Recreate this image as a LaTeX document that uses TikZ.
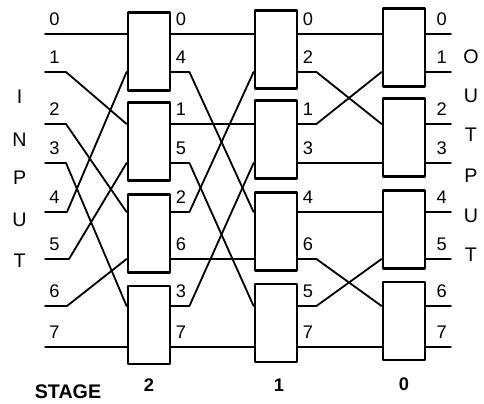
\documentclass[tikz,border=0pt]{standalone}
\usepackage{fontspec}
\setmainfont{Liberation Sans}
\tikzset{switch/.style={draw=black,line width=2pt,minimum width=1.05cm,minimum height=1.95cm,inner sep=0pt},
 wire/.style={draw=black,line width=1.3pt},
 tag/.style={anchor=south west,inner sep=0pt,font=\fontsize{13}{15}\selectfont,xshift=3pt,yshift=6pt},
 letter/.style={inner sep=0pt,font=\fontsize{14}{16}\selectfont},
 every picture/.style={line join=round,line cap=round}}
\begin{document}
\begin{tikzpicture}[]
\useasboundingbox (0,0) rectangle (12.1,10.075);
% line levels
\coordinate (in0) at (1.125,9.225);
\coordinate (in1) at (1.125,8.275);
\coordinate (in2) at (1.125,6.975);
\coordinate (in3) at (1.125,6.000);
\coordinate (in4) at (1.125,4.775);
\coordinate (in5) at (1.125,3.600);
\coordinate (in6) at (1.125,2.425);
\coordinate (in7) at (1.125,1.400);
\coordinate (out0) at (11.275,9.225);
\coordinate (out1) at (11.275,8.275);
\coordinate (out2) at (11.275,6.975);
\coordinate (out3) at (11.275,6.000);
\coordinate (out4) at (11.275,4.775);
\coordinate (out5) at (11.275,3.600);
\coordinate (out6) at (11.275,2.425);
\coordinate (out7) at (11.275,1.400);
% switches
\node[switch] (sw2a) at (3.725,8.790) {};
\node[switch] (sw2b) at (3.725,6.530) {};
\node[switch] (sw2c) at (3.725,4.230) {};
\node[switch] (sw2d) at (3.725,1.950) {};
\node[switch] (sw1a) at (6.900,8.840) {};
\node[switch] (sw1b) at (6.900,6.580) {};
\node[switch] (sw1c) at (6.900,4.280) {};
\node[switch] (sw1d) at (6.900,2.000) {};
\node[switch] (sw0a) at (10.100,8.890) {};
\node[switch] (sw0b) at (10.100,6.630) {};
\node[switch] (sw0c) at (10.100,4.330) {};
\node[switch] (sw0d) at (10.100,2.050) {};
% inputs to stage 2
\draw[wire] (in0) -- (sw2a.west |- in0);
\draw[wire] (in1) -- ++(0.525,0) -- (sw2b.west |- in2);
\draw[wire] (in2) -- ++(0.525,0) -- (sw2c.west |- in4);
\draw[wire] (in3) -- ++(0.525,0) -- (sw2d.west |- in6);
\draw[wire] (in4) -- ++(0.550,0) -- (sw2a.west |- in1);
\draw[wire] (in5) -- ++(0.600,0) -- (sw2b.west |- in3);
\draw[wire] (in6) -- ++(0.550,0) -- (sw2c.west |- in5);
\draw[wire] (in7) -- (sw2d.west |- in7);
% stage 2 to stage 1
\draw[wire] (sw2a.east |- in0) -- (sw1a.west |- in0);
\draw[wire] (sw2a.east |- in1) -- ++(0.450,0) -- (sw1c.west |- in4);
\draw[wire] (sw2b.east |- in2) -- (sw1b.west |- in2);
\draw[wire] (sw2b.east |- in3) -- ++(0.450,0) -- (sw1d.west |- in6);
\draw[wire] (sw2c.east |- in4) -- ++(0.450,0) -- (sw1a.west |- in1);
\draw[wire] (sw2c.east |- in5) -- (sw1c.west |- in5);
\draw[wire] (sw2d.east |- in6) -- ++(0.450,0) -- (sw1b.west |- in3);
\draw[wire] (sw2d.east |- in7) -- (sw1d.west |- in7);
% stage 1 to stage 0
\draw[wire] (sw1a.east |- in0) -- (sw0a.west |- in0);
\draw[wire] (sw1a.east |- in1) -- ++(0.450,0) -- (sw0b.west |- in2);
\draw[wire] (sw1b.east |- in2) -- ++(0.450,0) -- (sw0a.west |- in1);
\draw[wire] (sw1b.east |- in3) -- (sw0b.west |- in3);
\draw[wire] (sw1c.east |- in4) -- (sw0c.west |- in4);
\draw[wire] (sw1c.east |- in5) -- ++(0.450,0) -- (sw0d.west |- in6);
\draw[wire] (sw1d.east |- in6) -- ++(0.450,0) -- (sw0c.west |- in5);
\draw[wire] (sw1d.east |- in7) -- (sw0d.west |- in7);
% outputs
\draw[wire] (sw0a.east |- in0) -- (out0);
\draw[wire] (sw0a.east |- in1) -- (out1);
\draw[wire] (sw0b.east |- in2) -- (out2);
\draw[wire] (sw0b.east |- in3) -- (out3);
\draw[wire] (sw0c.east |- in4) -- (out4);
\draw[wire] (sw0c.east |- in5) -- (out5);
\draw[wire] (sw0d.east |- in6) -- (out6);
\draw[wire] (sw0d.east |- in7) -- (out7);
% line numbers
\node[tag] (tin0) at (in0) {0};
\node[tag] (tin1) at (in1) {1};
\node[tag] (tin2) at (in2) {2};
\node[tag] (tin3) at (in3) {3};
\node[tag] (tin4) at (in4) {4};
\node[tag] (tin5) at (in5) {5};
\node[tag] (tin6) at (in6) {6};
\node[tag] (tin7) at (in7) {7};
\node[tag] (t20) at (sw2a.east |- in0) {0};
\node[tag] (t21) at (sw2a.east |- in1) {4};
\node[tag] (t22) at (sw2b.east |- in2) {1};
\node[tag] (t23) at (sw2b.east |- in3) {5};
\node[tag] (t24) at (sw2c.east |- in4) {2};
\node[tag] (t25) at (sw2c.east |- in5) {6};
\node[tag] (t26) at (sw2d.east |- in6) {3};
\node[tag] (t27) at (sw2d.east |- in7) {7};
\node[tag] (t10) at (sw1a.east |- in0) {0};
\node[tag] (t11) at (sw1a.east |- in1) {2};
\node[tag] (t12) at (sw1b.east |- in2) {1};
\node[tag] (t13) at (sw1b.east |- in3) {3};
\node[tag] (t14) at (sw1c.east |- in4) {4};
\node[tag] (t15) at (sw1c.east |- in5) {6};
\node[tag] (t16) at (sw1d.east |- in6) {5};
\node[tag] (t17) at (sw1d.east |- in7) {7};
\node[tag,xshift=4pt] (t00) at (sw0a.east |- in0) {0};
\node[tag,xshift=4pt] (t01) at (sw0a.east |- in1) {1};
\node[tag,xshift=4pt] (t02) at (sw0b.east |- in2) {2};
\node[tag,xshift=4pt] (t03) at (sw0b.east |- in3) {3};
\node[tag,xshift=4pt] (t04) at (sw0c.east |- in4) {4};
\node[tag,xshift=4pt] (t05) at (sw0c.east |- in5) {5};
\node[tag,xshift=4pt] (t06) at (sw0d.east |- in6) {6};
\node[tag,xshift=4pt] (t07) at (sw0d.east |- in7) {7};
% INPUT / OUTPUT
\node[letter] (inI) at (0.490,7.650) {I};
\node[letter] (inN) at (0.490,6.575) {N};
\node[letter] (inP) at (0.490,5.625) {P};
\node[letter] (inU) at (0.490,4.575) {U};
\node[letter] (inT) at (0.490,3.550) {T};
\node[letter] (outO) at (11.775,8.650) {O};
\node[letter] (outU) at (11.775,7.675) {U};
\node[letter] (outT) at (11.775,6.700) {T};
\node[letter] (outP) at (11.775,5.675) {P};
\node[letter] (outU2) at (11.775,4.675) {U};
\node[letter] (outT2) at (11.775,3.700) {T};
% stages
\node[letter,font=\fontsize{14}{16}\selectfont\bfseries] (stage) at (1.700,0.275) {STAGE};
\node[letter,font=\fontsize{13}{15}\selectfont\bfseries] (st2) at (3.725,0.450) {2};
\node[letter,font=\fontsize{13}{15}\selectfont\bfseries] (st1) at (6.975,0.450) {1};
\node[letter,font=\fontsize{13}{15}\selectfont\bfseries] (st0) at (10.100,0.475) {0};
\end{tikzpicture}
\end{document}
